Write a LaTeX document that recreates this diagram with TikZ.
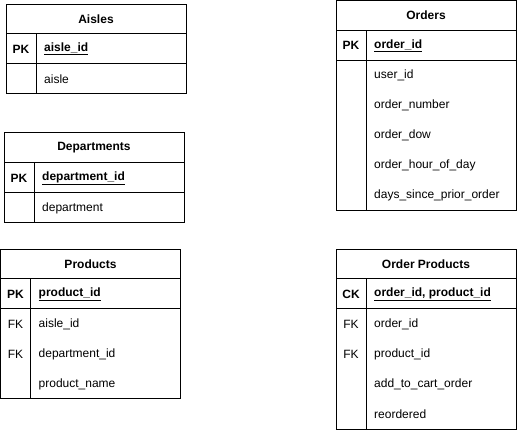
\documentclass[tikz,border=0pt]{standalone}
\usepackage{fontspec}
\setmainfont{Liberation Sans}
\begin{document}
\begin{tikzpicture}[x=1pt,y=-1pt,
  frame/.style={draw=black,line width=1pt},
  sep/.style={draw=black,line width=1pt},
  txt/.style={inner sep=0pt,font=\fontsize{12}{14}\selectfont,text=black},
  hdr/.style={txt,font=\fontsize{12}{14}\selectfont\bfseries,anchor=center},
  keyc/.style={txt,font=\fontsize{12}{14}\selectfont\bfseries,anchor=center},
  keyf/.style={txt,font=\fontsize{12}{14}\selectfont\bfseries,anchor=west},
  fld/.style={txt,anchor=west},
  fkc/.style={txt,anchor=center}]
\useasboundingbox (0,0) rectangle (517,430);

% ---------- Aisles ----------
\draw[frame] (6,4.5) rectangle (186,94);
\draw[sep] (6,34) -- (186,34);
\draw[sep] (6,64) -- (186,64);
\draw[sep] (36,34) -- (36,94);
\node[hdr] (aT) at (96,19) {Aisles};
\node[keyc] (aK1) at (21,49) {PK};
\node[keyf] (aF1) at (44,49) {\underline{aisle\_id}};
\node[fld] (aF2) at (44,79) {aisle};

% ---------- Departments ----------
\draw[frame] (4,133) rectangle (184,223);
\draw[sep] (4,163) -- (184,163);
\draw[sep] (4,193) -- (184,193);
\draw[sep] (34,163) -- (34,223);
\node[hdr] (dT) at (94,148) {Departments};
\node[keyc] (dK1) at (19,178) {PK};
\node[keyf] (dF1) at (42,178) {\underline{department\_id}};
\node[fld] (dF2) at (42,208) {department};

% ---------- Orders ----------
\draw[frame] (336,1) rectangle (516,210.5);
\draw[sep] (336,30.5) -- (516,30.5);
\draw[sep] (336,60.5) -- (516,60.5);
\draw[sep] (366,30.5) -- (366,210.5);
\node[hdr] (oT) at (426,15.5) {Orders};
\node[keyc] (oK1) at (351,45.5) {PK};
\node[keyf] (oF1) at (374,45.5) {\underline{order\_id}};
\node[fld] (oF2) at (374,75.5) {user\_id};
\node[fld] (oF3) at (374,105.5) {order\_number};
\node[fld] (oF4) at (374,135.5) {order\_dow};
\node[fld] (oF5) at (374,165.5) {order\_hour\_of\_day};
\node[fld] (oF6) at (374,195.5) {days\_since\_prior\_order};

% ---------- Products ----------
\draw[frame] (0.5,249.5) rectangle (180.5,399);
\draw[sep] (0.5,279) -- (180.5,279);
\draw[sep] (0.5,309) -- (180.5,309);
\draw[sep] (30.5,279) -- (30.5,399);
\node[hdr] (pT) at (90.5,264) {Products};
\node[keyc] (pK1) at (15.5,294) {PK};
\node[keyf] (pF1) at (38.5,294) {\underline{product\_id}};
\node[fkc] (pK2) at (15.5,324) {FK};
\node[fld] (pF2) at (38.5,324) {aisle\_id};
\node[fkc] (pK3) at (15.5,354) {FK};
\node[fld] (pF3) at (38.5,354) {department\_id};
\node[fld] (pF4) at (38.5,384) {product\_name};

% ---------- Order Products ----------
\draw[frame] (336,249.5) rectangle (516,429);
\draw[sep] (336,279) -- (516,279);
\draw[sep] (336,309) -- (516,309);
\draw[sep] (366,279) -- (366,429);
\node[hdr] (opT) at (426,264) {Order Products};
\node[keyc] (opK1) at (351,294) {CK};
\node[keyf] (opF1) at (374,294) {\underline{order\_id, product\_id}};
\node[fkc] (opK2) at (351,324) {FK};
\node[fld] (opF2) at (374,324) {order\_id};
\node[fkc] (opK3) at (351,354) {FK};
\node[fld] (opF3) at (374,354) {product\_id};
\node[fld] (opF4) at (374,384) {add\_to\_cart\_order};
\node[fld] (opF5) at (374,414) {reordered};
\end{tikzpicture}
\end{document}
